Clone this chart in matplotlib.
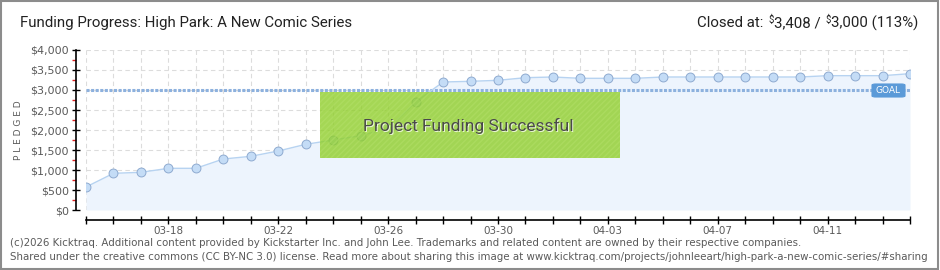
"""
Kicktraq-style funding progress chart for "High Park: A New Comic Series".
Writes out.png (940x270).
"""
import matplotlib

matplotlib.use("Agg")
import matplotlib.dates as mdates  # noqa: E402
import matplotlib.pyplot as plt  # noqa: E402
import pandas as pd  # noqa: E402
from matplotlib.patches import Rectangle, FancyBboxPatch  # noqa: E402
from matplotlib.ticker import FixedLocator, FuncFormatter, MultipleLocator  # noqa: E402

# ---- data ----
dates = pd.to_datetime([
    "2026-03-15", "2026-03-16", "2026-03-17", "2026-03-18", "2026-03-19",
    "2026-03-20", "2026-03-21", "2026-03-22", "2026-03-23", "2026-03-24",
    "2026-03-25", "2026-03-26", "2026-03-27", "2026-03-28", "2026-03-29",
    "2026-03-30", "2026-03-31", "2026-04-01", "2026-04-02", "2026-04-03",
    "2026-04-04", "2026-04-05", "2026-04-06", "2026-04-07", "2026-04-08",
    "2026-04-09", "2026-04-10", "2026-04-11", "2026-04-12", "2026-04-13",
    "2026-04-14",
])
pledged = [
    575, 917, 942, 1042, 1042, 1275, 1342, 1475, 1642, 1750,
    1858, 2040, 2700, 3200, 3217, 3242, 3308, 3325, 3292, 3292,
    3292, 3325, 3325, 3325, 3325, 3325, 3325, 3358, 3358, 3358,
    3408,
]
goal = 3000
label_dates = pd.to_datetime([
    "2026-03-18", "2026-03-22", "2026-03-26", "2026-03-30",
    "2026-04-03", "2026-04-07", "2026-04-11",
])

title = "Funding Progress: High Park: A New Comic Series"
closed_parts = ["Closed at: ", "$", "3,408 / ", "$", "3,000 (113%)"]
banner = "Project Funding Successful"
footer = [
    "(c)2026 Kicktraq. Additional content provided by Kickstarter Inc. and John Lee. "
    "Trademarks and related content are owned by their respective companies.",
    "Shared under the creative commons (CC BY-NC 3.0) license. Read more about sharing "
    "this image at www.kicktraq.com/projects/johnleeart/high-park-a-new-comic-series/#sharing",
]

W, H = 940, 270
HEAD = ["Roboto", "DejaVu Sans"]
LINE = "#b7d3f1"
FILL = "#edf4fd"
MARK_FACE = "#c4dcf6"
MARK_EDGE = "#8eaad0"
GOAL_C = "#8db1de"
GRID = "#dcdcdc"
TXT = "#5a5a5a"

fig = plt.figure(figsize=(W / 100, H / 100), dpi=100)


def fx(px):
    return px / W


def fy(py):
    return 1 - py / H


ax = fig.add_axes([fx(86), fy(210), fx(910) - fx(86), fy(50) - fy(210)])

x = mdates.date2num(dates)
ax.fill_between(x, 0, pledged, color=FILL, lw=0, zorder=1)
ax.plot(x, pledged, color=LINE, lw=1.0, zorder=3)
ax.plot(x, pledged, ls="none", marker="o", ms=6.4, mfc=MARK_FACE,
        mec=MARK_EDGE, mew=0.7, zorder=4)
ax.axhline(goal, color=GOAL_C, lw=2.2, ls=(0, (1.0, 0.5)), zorder=2)

ax.set_xlim(x[0], x[-1])
ax.set_ylim(0, 4000)

ax.xaxis.set_minor_locator(mdates.DayLocator())
ax.xaxis.set_major_locator(FixedLocator(mdates.date2num(label_dates)))
ax.xaxis.set_major_formatter(mdates.DateFormatter("%m-%d"))
ax.yaxis.set_major_locator(MultipleLocator(500))
ax.yaxis.set_minor_locator(MultipleLocator(250))
ax.yaxis.set_major_formatter(FuncFormatter(lambda v, p: f"${int(v):,}"))
ax.grid(True, which="major", axis="y", color=GRID, ls=(0, (4, 3)), lw=0.8, zorder=0)
ax.grid(True, which="both", axis="x", color=GRID, ls=(0, (4, 3)), lw=0.8, zorder=0)
ax.set_axisbelow(True)

for s in ("top", "right"):
    ax.spines[s].set_visible(False)
ax.spines["left"].set_position(("outward", 7.2))
ax.spines["bottom"].set_position(("outward", 7.2))
for s in ("left", "bottom"):
    ax.spines[s].set_linewidth(1.2)
    ax.spines[s].set_color("black")

ax.tick_params(axis="y", which="major", direction="inout", length=6, width=1.0,
               color="black", labelsize=8, labelcolor=TXT, pad=2)
ax.tick_params(axis="y", which="minor", direction="out", length=3, width=1.0,
               color="#e02020")
ax.tick_params(axis="x", which="both", direction="inout", length=6, width=1.0,
               color="black")
ax.tick_params(axis="x", which="major", labelsize=7.5, labelcolor=TXT, pad=1)

ax.set_ylabel("P L E D G E D", fontsize=6.5, color=TXT, labelpad=5)

# GOAL tag
tag = FancyBboxPatch((fx(872), fy(97)), fx(905) - fx(872), fy(84) - fy(97),
                     boxstyle="round,pad=0,rounding_size=0.004",
                     transform=fig.transFigure, fc="#5b9ad8", ec="#5b9ad8",
                     lw=0.8, zorder=10)
fig.add_artist(tag)
fig.text(fx(888.5), fy(90.5), "GOAL", ha="center", va="center", color="white",
         fontsize=6.5, zorder=11)

# success banner (semi-transparent so the points show through)
box = Rectangle((fx(320), fy(158)), fx(620) - fx(320), fy(92) - fy(158),
                transform=fig.transFigure, fc="#8fce2a", ec="none",
                alpha=0.8, zorder=10)
fig.add_artist(box)
hatch = Rectangle((fx(320), fy(158)), fx(620) - fx(320), fy(92) - fy(158),
                  transform=fig.transFigure, fc="none", ec="#b6e26c",
                  lw=0, hatch="//////", alpha=0.45, zorder=10.5)
fig.add_artist(hatch)
fig.text(fx(469.5), fy(126.5), banner, ha="center", va="center",
         fontsize=12.5, color="#e8f5d5", family=HEAD, zorder=11)
fig.text(fx(468.5), fy(125.5), banner, ha="center", va="center",
         fontsize=12.5, color="#4a4a4a", family=HEAD, zorder=12)

# header
fig.text(fx(20), fy(23), title, ha="left", va="center", fontsize=10.8,
         color="#222222", family=HEAD)

fig.canvas.draw()
renderer = fig.canvas.get_renderer()
right = 918
for part in reversed(closed_parts):
    small = part == "$"
    t = fig.text(fx(right), fy(20 if small else 23), part.replace("$", r"\$"),
                 ha="right", va="center", fontsize=7 if small else 10.8,
                 color="#222222", family=HEAD)
    bb = t.get_window_extent(renderer)
    right -= bb.width + (1 if small else 0)

# footer
fig.text(fx(10), fy(243), footer[0], ha="left", va="center", fontsize=7.4,
         color=TXT)
fig.text(fx(10), fy(257), footer[1], ha="left", va="center", fontsize=7.4,
         color=TXT)

# outer frame
frame = Rectangle((0.001, 0.002), 0.997, 0.995, transform=fig.transFigure,
                  fc="none", ec="#8c8c8c", lw=1.5, zorder=20)
fig.add_artist(frame)

fig.savefig("out.png", dpi=100)
print("saved out.png")
